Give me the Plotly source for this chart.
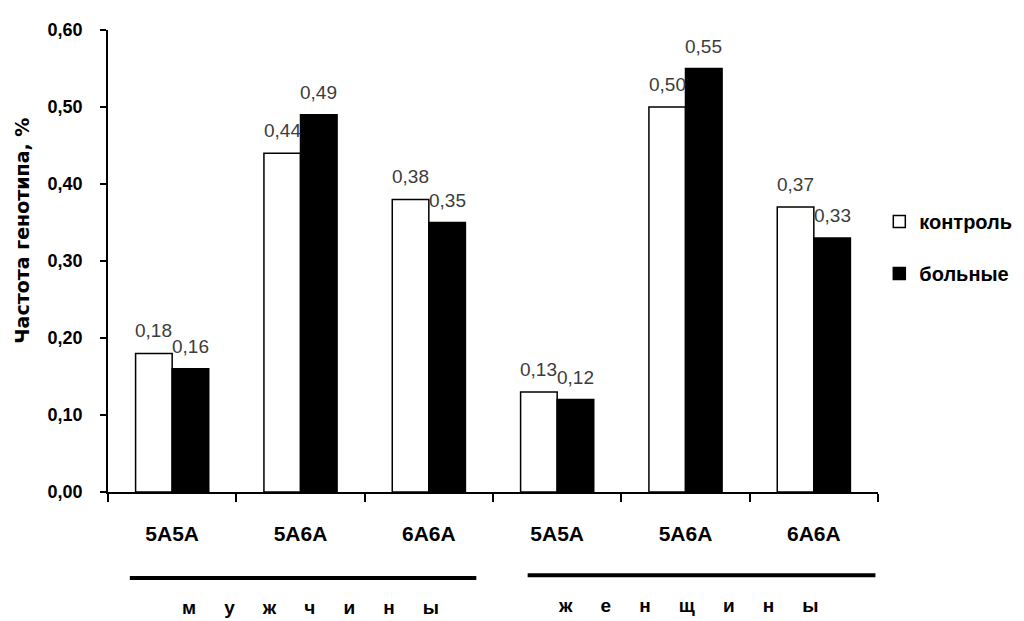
import plotly.graph_objects as go

# ---- data ----
categories = ["m_5A5A", "m_5A6A", "m_6A6A", "f_5A5A", "f_5A6A", "f_6A6A"]
tick_labels = ["5A5A", "5A6A", "6A6A", "5A5A", "5A6A", "6A6A"]
control = [0.18, 0.44, 0.38, 0.13, 0.50, 0.37]
patients = [0.16, 0.49, 0.35, 0.12, 0.55, 0.33]
series_names = ["контроль", "больные"]
group_labels = ["мужчины", "женщины"]
y_title = "Частота генотипа, %"

FONT = "Liberation Sans, Arial, sans-serif"
label_font = dict(family=FONT, size=19, color="#3c3c3c")
BARGAP = 0.43

fig = go.Figure()
fig.add_trace(go.Bar(
    x=categories, y=control, name=series_names[0], legendgroup="a",
    marker=dict(color="white", line=dict(color="black", width=1.5)),
))
fig.add_trace(go.Bar(
    x=categories, y=patients, name=series_names[1], legendgroup="b",
    marker=dict(color="black", line=dict(color="black", width=1.5)),
))

def fmt(v):
    return f"{v:.2f}".replace(".", ",")

# value labels above each bar (bar centre offset derived from the bar gap)
half = (1 - BARGAP) / 4.0
annotations = []
for sign, vals in ((-1, control), (1, patients)):
    for j, v in enumerate(vals):
        annotations.append(dict(text=fmt(v), xref="x", yref="y", x=j + sign * half, y=v,
                                xanchor="center", yanchor="bottom", yshift=10, showarrow=False,
                                font=label_font))

def spaced(word):
    return "\u2003\u00a0\u2009".join(list(word))

shapes = [
    dict(type="line", xref="x", yref="paper", x0=-0.33, x1=2.37, y0=-0.186, y1=-0.186,
         line=dict(color="black", width=4)),
    dict(type="line", xref="x", yref="paper", x0=2.77, x1=5.48, y0=-0.180, y1=-0.180,
         line=dict(color="black", width=4)),
]
annotations += [
    dict(text=spaced(group_labels[0]), xref="x", yref="paper", x=1.08, y=-0.249,
         showarrow=False, font=dict(family=FONT, size=19, color="black", weight="bold"),
         xanchor="center", yanchor="middle"),
    dict(text=spaced(group_labels[1]), xref="x", yref="paper", x=4.02, y=-0.245,
         showarrow=False, font=dict(family=FONT, size=19, color="black", weight="bold"),
         xanchor="center", yanchor="middle"),
    dict(text=y_title, xref="paper", yref="paper", x=-0.112, y=0.565,
         textangle=-90, showarrow=False,
         font=dict(family="DejaVu Sans, sans-serif", size=19, color="black", weight="bold"),
         xanchor="center", yanchor="middle"),
]

fig.update_layout(
    width=1016, height=613,
    paper_bgcolor="white", plot_bgcolor="white",
    margin=dict(l=100, r=146, t=22, b=129, autoexpand=False),
    barmode="group", bargap=BARGAP, bargroupgap=0,
    separators=", ",
    showlegend=True,
    legend=dict(x=1.0017, xanchor="left", y=0.529, yanchor="middle",
                font=dict(family=FONT, size=20, color="black", weight="bold"),
                traceorder="grouped", tracegroupgap=23, bgcolor="rgba(0,0,0,0)"),
    shapes=shapes, annotations=annotations,
    xaxis=dict(type="category", tickmode="array", tickvals=categories, ticktext=tick_labels,
               tickson="boundaries", ticks="outside", ticklen=8, tickwidth=1.5, tickcolor="black",
               showline=True, linecolor="black", linewidth=1.5, showgrid=False,
               tickfont=dict(family=FONT, size=21, color="black", weight="bold"), ticklabelstandoff=22),
    yaxis=dict(range=[0, 0.6], dtick=0.1, tick0=0, tickformat=".2f",
               ticks="outside", ticklen=6, tickwidth=1.5, tickcolor="black",
               showline=True, linecolor="black", linewidth=1.5, showgrid=False, zeroline=False,
               tickfont=dict(family=FONT, size=18, color="black", weight="bold"), ticklabelstandoff=14),
)

fig.write_html("out.html")
